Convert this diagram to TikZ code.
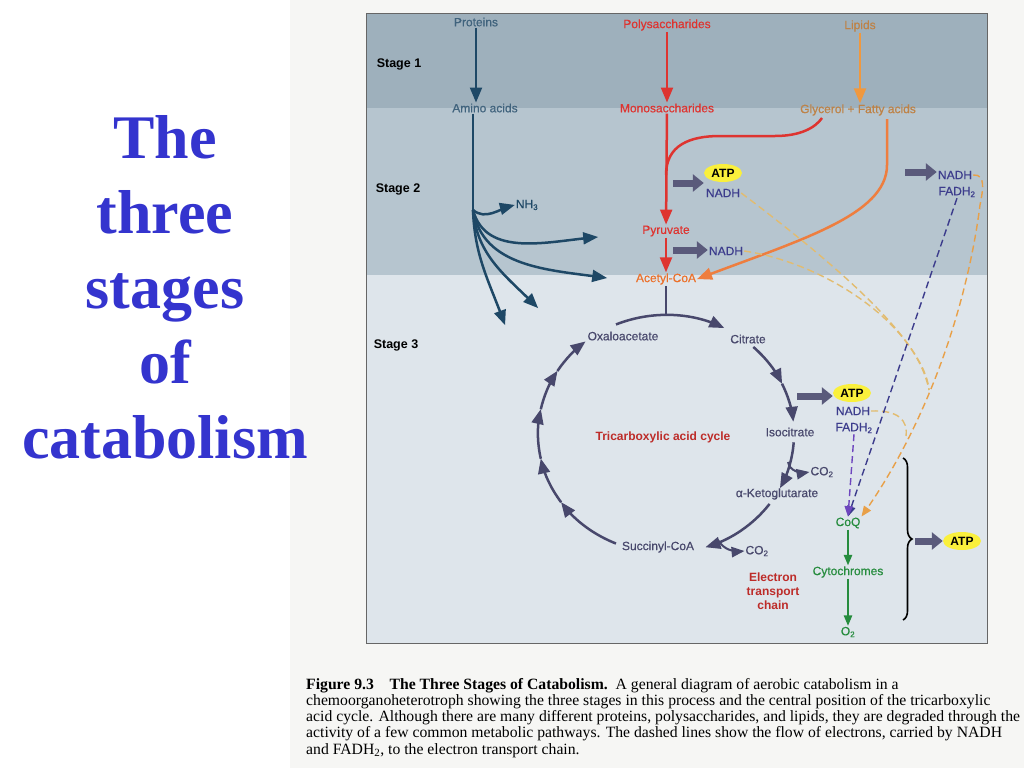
\documentclass[tikz,border=0pt]{standalone}
\usepackage{fontspec}
\setmainfont{Liberation Serif}
\setsansfont{Liberation Sans}
\newfontfamily\lblfont{Liberation Sans}[FakeBold=0.5]
\usepackage{tikz}
\usetikzlibrary{arrows,arrows.meta,shapes.geometric,decorations.pathreplacing}

\definecolor{pagecol}{RGB}{246,246,244}
\definecolor{stageone}{RGB}{158,176,188}
\definecolor{stagetwo}{RGB}{182,197,207}
\definecolor{stagethree}{RGB}{222,229,235}
\definecolor{protcol}{RGB}{30,72,102}
\definecolor{sugarcol}{RGB}{222,52,48}
\definecolor{lipidcol}{RGB}{240,152,62}
\definecolor{lipidtext}{RGB}{190,130,70}
\definecolor{acoacol}{RGB}{236,112,42}
\definecolor{cyclecol}{RGB}{72,72,108}
\definecolor{nadhcol}{RGB}{60,60,140}
\definecolor{dashtan}{RGB}{226,188,112}
\definecolor{dashorange}{RGB}{232,160,72}
\definecolor{dashviolet}{RGB}{110,70,190}
\definecolor{etccol}{RGB}{38,140,62}
\definecolor{atpcol}{RGB}{250,240,60}
\definecolor{titlecol}{RGB}{52,52,206}

\tikzset{
  lbl/.style={font=\fontsize{12}{14}\selectfont\lblfont, inner sep=1pt},
  boldlbl/.style={font=\fontsize{12}{14}\selectfont\sffamily\bfseries, inner sep=1pt},
  stagelbl/.style={font=\fontsize{12.5}{14}\selectfont\sffamily\bfseries, inner sep=1pt},
  atpbox/.style={ellipse, fill=atpcol, inner sep=0pt, minimum width=38pt, minimum height=18pt, font=\fontsize{12}{14}\selectfont\sffamily\bfseries},
  flow/.style={->, >=triangle 45, line width=2.5pt},
  fatarrow/.style={line width=7pt, cyclecol!90, -{Triangle[length=11pt,width=17pt]}},
  eflow/.style={->, >=triangle 45, line width=1.4pt, dash pattern=on 7pt off 4pt},
  captext/.style={font=\fontsize{15.7}{16}\selectfont, anchor=base west, inner sep=0pt}
}

\begin{document}
\begin{tikzpicture}[x=1pt,y=-1pt]
\useasboundingbox (0,0) rectangle (1024,768);
\fill[pagecol] (290,0) rectangle (1024,768);

% title
\foreach \w/\yy in {The/158, three/233, stages/308, of/383, catabolism/458}
  \node[font=\fontsize{62}{75}\selectfont\bfseries, text=titlecol, anchor=base, inner sep=0pt] (t\w) at (165,\yy) {\w};

% stage bands
\fill[stageone] (366,14) rectangle (987,108);
\fill[stagetwo] (366,108) rectangle (987,275);
\fill[stagethree] (366,275) rectangle (987,643);
\draw[black!60, line width=1pt] (366,14) rectangle (987,643);

\node[stagelbl] (st1) at (399,64) {Stage 1};
\node[stagelbl] (st2) at (398,189) {Stage 2};
\node[stagelbl] (st3) at (396,345) {Stage 3};

% stage 1 and 2
\node[lbl, text=protcol!85] (prot) at (476,22) {Proteins};
\node[lbl, text=protcol!85] (amino) at (485,108) {Amino acids};
\node[lbl, text=protcol] (nh) at (527,205) {NH\textsubscript{3}};
\node[lbl, text=sugarcol] (poly) at (667,25) {Polysaccharides};
\node[lbl, text=sugarcol] (mono) at (667,108) {Monosaccharides};
\node[lbl, text=sugarcol] (pyr) at (666,231) {Pyruvate};
\node[lbl, text=acoacol] (acoa) at (666,279) {Acetyl-CoA};
\node[lbl, text=lipidtext] (lip) at (860,26) {Lipids};
\node[lbl, text=lipidtext] (glyc) at (858,110) {Glycerol + Fatty acids};

\draw[flow, protcol] (prot) -- (prot |- amino.north);
\coordinate (fork) at (473,210);
\draw[protcol, line width=2.5pt] (amino.south -| fork) -- (fork);
\draw[flow, protcol] (fork) to[out=-40, in=195] (nh.west);
\coordinate (toPyr) at (598,237);
\coordinate (toAcoa) at (607,278);
\coordinate (toOne) at (538,308);
\coordinate (toTwo) at (505,325);
\draw[flow, protcol] (fork) to[out=-75, in=185] (toPyr);
\draw[flow, protcol] (fork) to[out=-80, in=172] (toAcoa);
\draw[flow, protcol] (fork) to[out=-85, in=135] (toOne);
\draw[flow, protcol] (fork) to[out=-88, in=110] (toTwo);

\draw[flow, sugarcol] (poly) -- (mono);
\draw[flow, sugarcol] (mono) -- (pyr);
\draw[flow, sugarcol] (pyr) -- (acoa);
\coordinate (sugarfork) at (666,175);
\draw[sugarcol, line width=2.5pt] (sugarfork) .. controls (666,145) and (690,136) .. (720,136)
  -- (775,136) .. controls (800,136) and (815,128) .. (822,118);

\draw[flow, lipidcol] (lip) -- (lip |- glyc.north);
\draw[flow, acoacol!90] (887,119) -- (887,165) .. controls (887,215) and (800,240) .. (acoa.east);

% ATP and NADH
\node[atpbox] (atp1) at (723,173) {ATP};
\node[lbl, text=nadhcol] (nadh1) at (723,193) {NADH};
\node[lbl, text=nadhcol] (nadh2) at (726,251) {NADH};
\node[lbl, text=nadhcol] (nadh3) at (955,175) {NADH};
\node[lbl, text=nadhcol] (fadh3) at (957,192) {FADH\textsubscript{2}};
\coordinate (f1) at (673,183);
\coordinate (f2) at (673,250);
\coordinate (f3) at (905,172);
\draw[fatarrow] (f1) -- (f1 -| atp1.west);
\draw[fatarrow] (f2) -- (f2 -| nadh2.west);
\draw[fatarrow] (f3) -- (f3 -| nadh3.west);

% tricarboxylic acid cycle
\node[lbl, text=cyclecol] (oxa) at (623,336) {Oxaloacetate};
\node[lbl, text=cyclecol] (cit) at (748,339) {Citrate};
\node[lbl, text=cyclecol] (iso) at (790,432) {Isocitrate};
\node[lbl, text=cyclecol] (keto) at (777,494) {α-Ketoglutarate};
\node[lbl, text=cyclecol] (succ) at (658,547) {Succinyl-CoA};
\node[lbl, text=cyclecol] (co2a) at (822,472) {CO\textsubscript{2}};
\node[lbl, text=cyclecol] (co2b) at (757,551) {CO\textsubscript{2}};
\node[boldlbl, text=sugarcol!85!black] (tca) at (663,437) {Tricarboxylic acid cycle};

\draw[cyclecol, line width=2.5pt] (acoa.south) -- (666,315);
\begin{scope}[shift={(666,434)}, y=1pt, cyclecol, line width=2.5pt, >=triangle 45]
  \draw[->] (113:128 and 119) arc[start angle=113, end angle=63, x radius=128, y radius=119];
  \draw[->] (47:128 and 119) arc[start angle=47, end angle=25, x radius=128, y radius=119];
  \draw[->] (25:128 and 119) arc[start angle=25, end angle=6, x radius=128, y radius=119];
  \draw[->] (-4:128 and 119) arc[start angle=-4, end angle=-27, x radius=128, y radius=119];
  \draw[->] (-36:128 and 119) arc[start angle=-36, end angle=-72, x radius=128, y radius=119];
  \draw[->] (247:128 and 119) arc[start angle=247, end angle=215, x radius=128, y radius=119];
  \draw[->] (215:128 and 119) arc[start angle=215, end angle=192, x radius=128, y radius=119];
  \draw[->] (192:128 and 119) arc[start angle=192, end angle=168, x radius=128, y radius=119];
  \draw[->] (168:128 and 119) arc[start angle=168, end angle=148, x radius=128, y radius=119];
  \draw[->] (148:128 and 119) arc[start angle=148, end angle=129, x radius=128, y radius=119];
\end{scope}
\draw[flow, cyclecol, line width=2pt] (788,462) to[out=-80, in=190] (co2a.west);
\draw[flow, cyclecol, line width=2pt] (718,540) to[out=-60, in=185] (co2b.west);

\node[atpbox] (atp4) at (852,393) {ATP};
\node[lbl, text=nadhcol] (nadh4) at (853,411) {NADH};
\node[lbl, text=nadhcol] (fadh4) at (854,428) {FADH\textsubscript{2}};
\coordinate (f4) at (797,396);
\draw[fatarrow] (f4) -- (f4 -| atp4.west);

% electron transport chain
\node[lbl, text=etccol] (coq) at (848,523) {CoQ};
\node[lbl, text=etccol] (cyt) at (848,572) {Cytochromes};
\node[lbl, text=etccol] (o2) at (848,632) {O\textsubscript{2}};
\node[boldlbl, align=center, text=sugarcol!85!black] (etc) at (773,591) {Electron\\transport\\chain};
\draw[flow, etccol, line width=1.4pt] (coq) -- (cyt);
\draw[flow, etccol, line width=1.4pt] (cyt) -- (o2);

\draw[black, line width=1.6pt, decorate, decoration={brace, amplitude=9pt}] (903,458) -- (903,620);
\node[atpbox] (atp5) at (962,541) {ATP};
\coordinate (f5) at (915,541);
\draw[fatarrow] (f5) -- (f5 -| atp5.west);

% electron flow
\coordinate (mergeA) at (929,390);
\coordinate (mergeB) at (906,436);
\draw[eflow, dashorange] (nadh3.east) .. controls (986,174) and (983,190) .. (980,205)
  .. controls (968,300) and (930,420) .. (coq.north east);
\draw[dashtan, line width=1.4pt, dash pattern=on 7pt off 4pt] (nadh1.east) .. controls (830,260) and (925,340) .. (mergeA);
\draw[dashtan, line width=1.4pt, dash pattern=on 7pt off 4pt] (nadh2.east) .. controls (820,262) and (915,320) .. (mergeA);
\draw[dashtan, line width=1.4pt, dash pattern=on 7pt off 4pt] (nadh4.east) .. controls (898,410) and (908,420) .. (mergeB);
\draw[eflow, nadhcol] (fadh3.south) -- (coq.north);
\draw[eflow, dashviolet] (fadh4.south) -- (coq.north);

% caption
\node[captext] (cap1) at (306,689) {{\bfseries Figure 9.3\quad The Three Stages of Catabolism.}\enspace A general diagram of aerobic catabolism in a};
\node[captext] (cap2) at (306,705.3) {chemoorganoheterotroph showing the three stages in this process and the central position of the tricarboxylic};
\node[captext] (cap3) at (306,721.5) {acid cycle. Although there are many different proteins, polysaccharides, and lipids, they are degraded through the};
\node[captext] (cap4) at (306,737.8) {activity of a few common metabolic pathways. The dashed lines show the flow of electrons, carried by NADH};
\node[captext] (cap5) at (306,754) {and FADH\textsubscript{2}, to the electron transport chain.};
\end{tikzpicture}
\end{document}
